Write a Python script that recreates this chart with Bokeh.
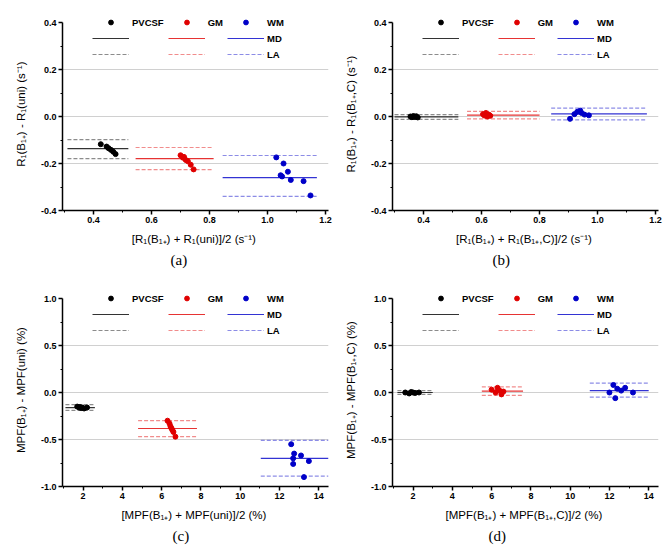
from bokeh.plotting import figure
from bokeh.layouts import column, row
from bokeh.models import (Legend, LegendItem, FixedTicker, Title, Range1d,
                          PrintfTickFormatter)
from bokeh.embed import file_html
from bokeh.resources import INLINE

tissues = ["PVCSF", "GM", "WM"]
colors = ["#000000", "#e00000", "#0000c8"]

# ---------------- panel (a) ----------------
a_pvcsf_x = [0.425, 0.445, 0.452, 0.460, 0.468, 0.476]
a_pvcsf_y = [-0.118, -0.128, -0.135, -0.142, -0.150, -0.160]
a_gm_x = [0.700, 0.708, 0.712, 0.718, 0.725, 0.735, 0.745]
a_gm_y = [-0.165, -0.175, -0.172, -0.185, -0.190, -0.205, -0.225]
a_wm_x = [1.030, 1.055, 1.070, 1.045, 1.050, 1.080, 1.124, 1.148]
a_wm_y = [-0.174, -0.200, -0.235, -0.250, -0.255, -0.270, -0.275, -0.336]
a_line_x0 = [0.31, 0.545, 0.845]
a_line_x1 = [0.52, 0.814, 1.17]
a_md = [-0.137, -0.179, -0.260]
a_la_hi = [-0.098, -0.132, -0.166]
a_la_lo = [-0.179, -0.226, -0.340]

# ---------------- panel (b) ----------------
b_pvcsf_x = [0.355, 0.360, 0.365, 0.370, 0.375, 0.380]
b_pvcsf_y = [0.000, -0.003, 0.002, -0.002, 0.001, -0.004]
b_gm_x = [0.605, 0.610, 0.615, 0.620, 0.625, 0.630]
b_gm_y = [0.010, 0.004, 0.015, 0.000, 0.008, 0.003]
b_wm_x = [0.905, 0.920, 0.930, 0.940, 0.945, 0.955, 0.970]
b_wm_y = [-0.010, 0.010, 0.020, 0.025, 0.015, 0.008, 0.005]
b_line_x0 = [0.30, 0.55, 0.84]
b_line_x1 = [0.52, 0.80, 1.17]
b_md = [-0.002, 0.006, 0.011]
b_la_hi = [0.008, 0.022, 0.036]
b_la_lo = [-0.012, -0.010, -0.014]

# ---------------- panel (c) ----------------
c_pvcsf_x = [1.70, 1.80, 1.85, 1.90, 1.95, 2.05, 2.20]
c_pvcsf_y = [-0.150, -0.160, -0.155, -0.165, -0.160, -0.170, -0.160]
c_gm_x = [6.30, 6.40, 6.45, 6.50, 6.55, 6.60, 6.70]
c_gm_y = [-0.30, -0.33, -0.36, -0.38, -0.40, -0.42, -0.47]
c_wm_x = [12.60, 12.75, 12.70, 12.70, 13.10, 13.50, 13.25]
c_wm_y = [-0.55, -0.65, -0.70, -0.76, -0.67, -0.73, -0.90]
c_line_x0 = [1.10, 4.80, 11.05]
c_line_x1 = [2.60, 7.80, 14.50]
c_md = [-0.160, -0.383, -0.700]
c_la_hi = [-0.130, -0.300, -0.510]
c_la_lo = [-0.190, -0.470, -0.890]

# ---------------- panel (d) ----------------
d_pvcsf_x = [1.60, 1.80, 1.90, 2.00, 2.10, 2.30]
d_pvcsf_y = [0.000, -0.010, 0.005, 0.000, -0.005, 0.000]
d_gm_x = [6.00, 6.20, 6.30, 6.40, 6.50, 6.60]
d_gm_y = [0.030, 0.000, 0.050, 0.020, -0.020, 0.010]
d_wm_x = [12.00, 12.20, 12.30, 12.40, 12.60, 12.80, 13.20]
d_wm_y = [0.000, 0.080, -0.060, 0.040, 0.020, 0.050, 0.000]
d_line_x0 = [1.20, 5.50, 11.00]
d_line_x1 = [3.00, 7.60, 14.00]
d_md = [0.000, 0.015, 0.020]
d_la_hi = [0.020, 0.060, 0.100]
d_la_lo = [-0.020, -0.030, -0.050]

# ---------------- axes / labels ----------------
r1_xticks = [0.4, 0.6, 0.8, 1.0, 1.2]
r1_xminor = [0.3, 0.5, 0.7, 0.9, 1.1]
r1_yticks = [-0.4, -0.2, 0.0, 0.2, 0.4]
r1_yminor = [-0.3, -0.1, 0.1, 0.3]
r1_grid = [-0.2, 0.0, 0.2]
mpf_xticks = [2, 4, 6, 8, 10, 12, 14]
mpf_xminor = [1, 3, 5, 7, 9, 11, 13]
mpf_yticks = [-1.0, -0.5, 0.0, 0.5, 1.0]
mpf_yminor = [-0.75, -0.25, 0.25, 0.75]
mpf_grid = [-0.5, 0.0, 0.5]

a_xlabel = "[R\u2081(B\u2081\u208a) + R\u2081(uni)]/2  (s\u207b\u00b9)"
a_ylabel = "R\u2081(B\u2081\u208a) - R\u2081(uni)  (s\u207b\u00b9)"
b_xlabel = "[R\u2081(B\u2081\u208a) + R\u2081(B\u2081\u208a,C)]/2  (s\u207b\u00b9)"
b_ylabel = "R\u2081(B\u2081\u208a) - R\u2081(B\u2081\u208a,C)  (s\u207b\u00b9)"
c_xlabel = "[MPF(B\u2081\u208a) + MPF(uni)]/2  (%)"
c_ylabel = "MPF(B\u2081\u208a) - MPF(uni)  (%)"
d_xlabel = "[MPF(B\u2081\u208a) + MPF(B\u2081\u208a,C)]/2  (%)"
d_ylabel = "MPF(B\u2081\u208a) - MPF(B\u2081\u208a,C)  (%)"

FONT = "Liberation Sans"
FRAME_W = 266
AXIS_H = 188          # pixel height of the drawn y axis
EXTRA = 8             # blank pixels above the top tick, room for the legend
FRAME_H = AXIS_H + EXTRA
LEG_H = 3 * 12 + 2 * 4


def make_panel(pts_x, pts_y, x0s, x1s, md, la_hi, la_lo, xr, yr,
               xt, xm, yt, ym, gridt, xfmt, xlabel, ylabel, caption, cap_off,
               left, right, top, bottom):
    y0, y1 = yr
    y_top = y1 + EXTRA * (y1 - y0) / AXIS_H
    p = figure(width=left + FRAME_W + right, height=top + FRAME_H + bottom,
               output_backend="svg", toolbar_location=None,
               x_range=Range1d(*xr), y_range=Range1d(y0, y_top),
               min_border_left=left, min_border_right=right,
               min_border_top=top, min_border_bottom=bottom)
    p.outline_line_color = None
    p.background_fill_color = "white"
    p.xgrid.visible = False
    p.ygrid.ticker = FixedTicker(ticks=gridt)
    p.ygrid.grid_line_color = "#d0d0d0"
    p.ygrid.grid_line_width = 1

    p.xaxis.ticker = FixedTicker(ticks=xt, minor_ticks=xm)
    p.yaxis.ticker = FixedTicker(ticks=yt, minor_ticks=ym)
    p.yaxis.bounds = (y0, y1)
    p.xaxis.formatter = PrintfTickFormatter(format=xfmt)
    p.yaxis.formatter = PrintfTickFormatter(format="%.1f")
    for ax in (p.xaxis[0], p.yaxis[0]):
        ax.axis_line_width = 1.5
        ax.axis_line_color = "black"
        ax.major_tick_line_width = 1.5
        ax.major_tick_line_color = "black"
        ax.minor_tick_line_color = "black"
        ax.major_tick_in = 0
        ax.major_tick_out = 4
        ax.minor_tick_in = 0
        ax.minor_tick_out = 2
        ax.major_label_text_font = FONT
        ax.major_label_text_font_size = "9px"
        ax.major_label_text_font_style = "bold"
        ax.major_label_text_color = "black"
        ax.major_label_standoff = 2
        ax.axis_label_text_font = FONT
        ax.axis_label_text_font_size = "11.5px"
        ax.axis_label_text_font_style = "normal"
        ax.axis_label_text_color = "black"
    p.xaxis.axis_label = xlabel
    p.yaxis.axis_label = ylabel
    p.xaxis.axis_label_standoff = 7
    p.yaxis.axis_label_standoff = 11

    sc, mdr, lar = [], [], []
    for i in range(3):
        la = p.segment(x0=[x0s[i], x0s[i]], y0=[la_hi[i], la_lo[i]],
                       x1=[x1s[i], x1s[i]], y1=[la_hi[i], la_lo[i]],
                       line_color=colors[i], line_alpha=0.45, line_width=1.2,
                       line_dash="4 2")
        m = p.segment(x0=[x0s[i]], y0=[md[i]], x1=[x1s[i]], y1=[md[i]],
                      line_color=colors[i], line_alpha=0.8, line_width=1.2)
        s = p.scatter(pts_x[i], pts_y[i], marker="circle", size=5,
                      fill_color=colors[i], line_color=colors[i])
        sc.append(s)
        mdr.append(m)
        lar.append(la)

    items = [LegendItem(label=tissues[i], renderers=[sc[i]]) for i in range(3)]
    items += [LegendItem(label="", renderers=[mdr[0]]),
              LegendItem(label="", renderers=[mdr[1]]),
              LegendItem(label="MD", renderers=[mdr[2]])]
    items += [LegendItem(label="", renderers=[lar[0]]),
              LegendItem(label="", renderers=[lar[1]]),
              LegendItem(label="LA", renderers=[lar[2]])]
    leg = Legend(items=items, orientation="horizontal", ncols=3,
                 location=(30, FRAME_H - 2 - LEG_H),
                 glyph_width=37, glyph_height=12, label_height=12,
                 label_width=10, label_standoff=3, spacing=4,
                 padding=0, margin=0,
                 background_fill_alpha=0, border_line_color=None,
                 label_text_font=FONT, label_text_font_size="9.5px",
                 label_text_font_style="bold", label_text_color="black")
    p.add_layout(leg)
    p.add_layout(Title(text=caption, align="left", offset=cap_off,
                       text_font="Liberation Serif", text_font_size="15px",
                       text_font_style="normal", text_color="black",
                       standoff=5), "below")
    return p


pa = make_panel([a_pvcsf_x, a_gm_x, a_wm_x], [a_pvcsf_y, a_gm_y, a_wm_y],
                a_line_x0, a_line_x1, a_md, a_la_hi, a_la_lo,
                (0.293, 1.21), (-0.4, 0.4), r1_xticks, r1_xminor,
                r1_yticks, r1_yminor, r1_grid, "%.1f", a_xlabel, a_ylabel,
                "(a)", 108, 62, 10, 14, 72)
pb = make_panel([b_pvcsf_x, b_gm_x, b_wm_x], [b_pvcsf_y, b_gm_y, b_wm_y],
                b_line_x0, b_line_x1, b_md, b_la_hi, b_la_lo,
                (0.293, 1.21), (-0.4, 0.4), r1_xticks, r1_xminor,
                r1_yticks, r1_yminor, r1_grid, "%.1f", b_xlabel, b_ylabel,
                "(b)", 100, 54, 6, 14, 72)
pc = make_panel([c_pvcsf_x, c_gm_x, c_wm_x], [c_pvcsf_y, c_gm_y, c_wm_y],
                c_line_x0, c_line_x1, c_md, c_la_hi, c_la_lo,
                (0.95, 14.5), (-1.0, 1.0), mpf_xticks, mpf_xminor,
                mpf_yticks, mpf_yminor, mpf_grid, "%d", c_xlabel, c_ylabel,
                "(c)", 110, 62, 10, 8, 68)
pd = make_panel([d_pvcsf_x, d_gm_x, d_wm_x], [d_pvcsf_y, d_gm_y, d_wm_y],
                d_line_x0, d_line_x1, d_md, d_la_hi, d_la_lo,
                (0.95, 14.5), (-1.0, 1.0), mpf_xticks, mpf_xminor,
                mpf_yticks, mpf_yminor, mpf_grid, "%d", d_xlabel, d_ylabel,
                "(d)", 96, 54, 6, 8, 68)

layout = column(row(pa, pb), row(pc, pd))
open("out.html", "w").write(file_html(layout, INLINE))
